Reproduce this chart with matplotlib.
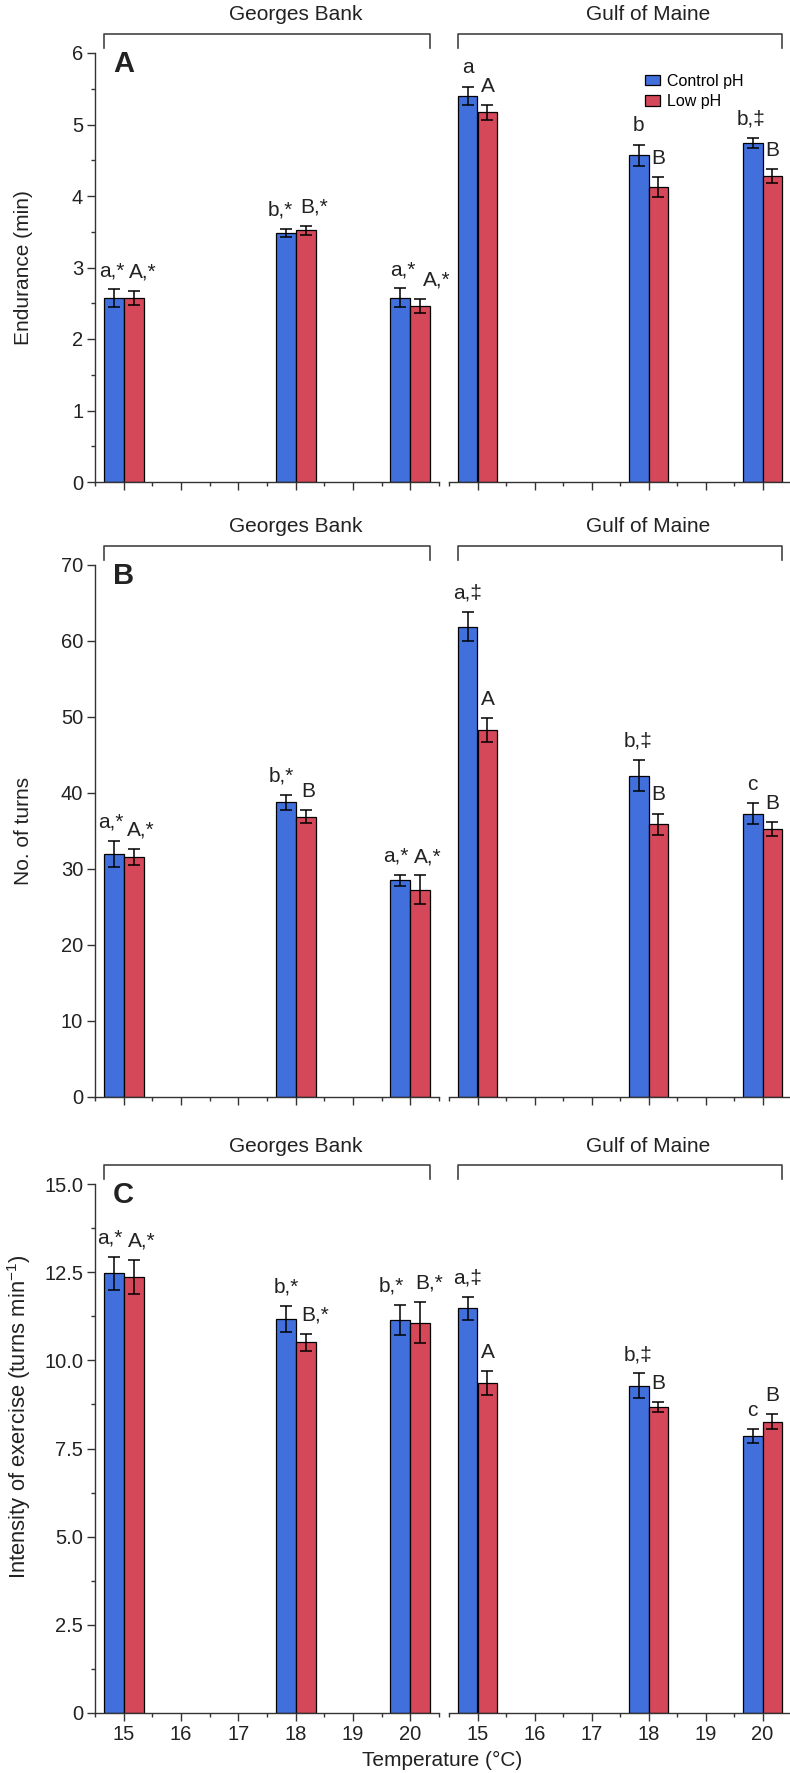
"""
Swimming performance at three temperatures under control / low pH,
Georges Bank vs Gulf of Maine (panels A-C).
"""

import matplotlib
matplotlib.use("Agg")
import matplotlib.pyplot as plt
from matplotlib.patches import Patch
from matplotlib.ticker import MultipleLocator
import numpy as np

plt.rcParams["font.family"] = ["Liberation Sans", "DejaVu Sans"]
plt.rcParams["mathtext.default"] = "regular"

TEMPS = [15, 18, 20]
TICK_TEMPS = [15, 16, 17, 18, 19, 20]

# ---------------------------------------------------------------------------
# Data (mean, s.e.m.)
# ---------------------------------------------------------------------------
# A - endurance (min)
ENDUR_GB_CTRL = [2.57, 3.48, 2.58]
ENDUR_GB_CTRL_SE = [0.125, 0.06, 0.13]
ENDUR_GB_LOW = [2.57, 3.52, 2.46]
ENDUR_GB_LOW_SE = [0.10, 0.06, 0.10]
ENDUR_GM_CTRL = [5.40, 4.57, 4.74]
ENDUR_GM_CTRL_SE = [0.13, 0.15, 0.075]
ENDUR_GM_LOW = [5.17, 4.13, 4.28]
ENDUR_GM_LOW_SE = [0.105, 0.14, 0.10]

# B - number of turns
TURNS_GB_CTRL = [32.0, 38.8, 28.5]
TURNS_GB_CTRL_SE = [1.7, 1.0, 0.7]
TURNS_GB_LOW = [31.6, 36.9, 27.3]
TURNS_GB_LOW_SE = [1.05, 0.8, 1.85]
TURNS_GM_CTRL = [61.9, 42.3, 37.3]
TURNS_GM_CTRL_SE = [1.9, 2.1, 1.35]
TURNS_GM_LOW = [48.3, 35.9, 35.3]
TURNS_GM_LOW_SE = [1.6, 1.4, 0.9]

# C - intensity of exercise (turns min-1)
INTENS_GB_CTRL = [12.47, 11.17, 11.14]
INTENS_GB_CTRL_SE = [0.47, 0.38, 0.43]
INTENS_GB_LOW = [12.37, 10.51, 11.07]
INTENS_GB_LOW_SE = [0.48, 0.24, 0.59]
INTENS_GM_CTRL = [11.48, 9.28, 7.85]
INTENS_GM_CTRL_SE = [0.33, 0.35, 0.20]
INTENS_GM_LOW = [9.36, 8.68, 8.26]
INTENS_GM_LOW_SE = [0.33, 0.14, 0.22]

# significance letters
ENDUR_GB_CTRL_LET = ["a,*", "b,*", "a,*"]
ENDUR_GB_LOW_LET = ["A,*", "B,*", "A,*"]
ENDUR_GM_CTRL_LET = ["a", "b", "b,‡"]
ENDUR_GM_LOW_LET = ["A", "B", "B"]
TURNS_GB_CTRL_LET = ["a,*", "b,*", "a,*"]
TURNS_GB_LOW_LET = ["A,*", "B", "A,*"]
TURNS_GM_CTRL_LET = ["a,‡", "b,‡", "c"]
TURNS_GM_LOW_LET = ["A", "B", "B"]
INTENS_GB_CTRL_LET = ["a,*", "b,*", "b,*"]
INTENS_GB_LOW_LET = ["A,*", "B,*", "B,*"]
INTENS_GM_CTRL_LET = ["a,‡", "b,‡", "c"]
INTENS_GM_LOW_LET = ["A", "B", "B"]

# ---------------------------------------------------------------------------
# Style
# ---------------------------------------------------------------------------
BLUE = "#4170DD"
RED = "#D54859"
TXT = "#222222"
AXC = "#333333"
BAR_W = 0.35
FS = 15

W, H = 790, 1773
fig = plt.figure(figsize=(W / 100, H / 100), dpi=100)


def px_axes(x0, top, x1, bottom):
    return fig.add_axes([x0 / W, 1 - bottom / H, (x1 - x0) / W, (bottom - top) / H])


def style(ax, left, ymax, major, minor, fmt, show_x):
    ax.set_xlim(14.5, 20.5)
    ax.set_ylim(0, ymax)
    for s in ("top", "right"):
        ax.spines[s].set_visible(False)
    for s in ("left", "bottom"):
        ax.spines[s].set_color(AXC)
        ax.spines[s].set_linewidth(1.0)
    ax.set_xticks(TICK_TEMPS)
    ax.xaxis.set_minor_locator(MultipleLocator(0.5))
    ax.tick_params(axis="both", which="major", length=5.5, width=1.0, color=AXC,
                   labelsize=FS - 0.5, labelcolor=TXT, pad=3)
    ax.tick_params(axis="both", which="minor", length=3, width=1.0, color=AXC)
    if not show_x:
        ax.tick_params(axis="x", labelbottom=False)
    if left:
        ax.yaxis.set_major_locator(MultipleLocator(major))
        if minor:
            ax.yaxis.set_minor_locator(MultipleLocator(minor))
        ax.yaxis.set_major_formatter(fmt)
    else:
        ax.spines["left"].set_visible(False)
        ax.tick_params(axis="y", which="both", left=False, labelleft=False)


def bars(ax, ctrl, ctrl_se, low, low_se, ctrl_let, low_let, ctrl_dx, low_dx):
    x = np.array(TEMPS, dtype=float)
    ekw = dict(ecolor="black", elinewidth=1.1, capsize=4.6, capthick=1.1)
    ax.bar(x - BAR_W / 2, ctrl, BAR_W, yerr=ctrl_se, color=BLUE,
           edgecolor="black", linewidth=0.9, error_kw=ekw, zorder=2)
    ax.bar(x + BAR_W / 2, low, BAR_W, yerr=low_se, color=RED,
           edgecolor="black", linewidth=0.9, error_kw=ekw, zorder=2)
    for i in range(len(x)):
        ax.annotate(ctrl_let[i], xy=(x[i] - BAR_W / 2, ctrl[i] + ctrl_se[i]),
                    xytext=(ctrl_dx[i], 9.5), textcoords="offset points",
                    ha="center", va="baseline", fontsize=FS, color=TXT,
                    annotation_clip=False)
        ax.annotate(low_let[i], xy=(x[i] + BAR_W / 2, low[i] + low_se[i]),
                    xytext=(low_dx[i], 9.5), textcoords="offset points",
                    ha="center", va="baseline", fontsize=FS, color=TXT,
                    annotation_clip=False)


def bracket(ax, label):
    h = ax.get_position().height * H
    trans = ax.get_xaxis_transform()
    x0 = TEMPS[0] - BAR_W
    x1 = TEMPS[-1] + BAR_W
    y_line = 1 + 19 / h
    y_end = 1 + 5 / h
    ax.plot([x0, x0, x1, x1], [y_end, y_line, y_line, y_end], color="#444444",
            lw=1.2, transform=trans, clip_on=False)
    ax.text(18.0, 1 + 38 / h, label, transform=trans, ha="center", va="center",
            fontsize=FS, color=TXT)


def letter(ax, s):
    h = ax.get_position().height * H
    w = ax.get_position().width * W
    ax.text(18 / w, 1 + 3 / h, s, transform=ax.transAxes, ha="left", va="top",
            fontsize=21, fontweight="bold", color=TXT)


LX0, LX1 = 95, 439
RX0, RX1 = 449, 791
ROWS = [(53, 482), (565, 1097), (1184, 1713)]
YLAB_Y = [0.5, 0.5, 0.56]

int_fmt = matplotlib.ticker.FuncFormatter(lambda v, p: f"{v:.0f}")
c_fmt = matplotlib.ticker.FuncFormatter(lambda v, p: "0" if v == 0 else f"{v:.1f}")

panels = [
    ("A", "Endurance (min)", 6, 1, 0.5, int_fmt,
     (ENDUR_GB_CTRL, ENDUR_GB_CTRL_SE, ENDUR_GB_LOW, ENDUR_GB_LOW_SE,
      ENDUR_GB_CTRL_LET, ENDUR_GB_LOW_LET, [-1.5, -3.5, 1.5], [6.5, 6, 12]),
     (ENDUR_GM_CTRL, ENDUR_GM_CTRL_SE, ENDUR_GM_LOW, ENDUR_GM_LOW_SE,
      ENDUR_GM_CTRL_LET, ENDUR_GM_LOW_LET, [0, 0, -1], [0, 0, 0])),
    ("B", "No. of turns", 70, 10, None, int_fmt,
     (TURNS_GB_CTRL, TURNS_GB_CTRL_SE, TURNS_GB_LOW, TURNS_GB_LOW_SE,
      TURNS_GB_CTRL_LET, TURNS_GB_LOW_LET, [-2, -3, -3], [5, 1.5, 5.5]),
     (TURNS_GM_CTRL, TURNS_GM_CTRL_SE, TURNS_GM_LOW, TURNS_GM_LOW_SE,
      TURNS_GM_CTRL_LET, TURNS_GM_LOW_LET, [0, 0, 0], [0, 0, 0])),
    ("C", "Intensity of exercise (turns min$^{-1}$)", 15, 2.5, 1.25, c_fmt,
     (INTENS_GB_CTRL, INTENS_GB_CTRL_SE, INTENS_GB_LOW, INTENS_GB_LOW_SE,
      INTENS_GB_CTRL_LET, INTENS_GB_LOW_LET, [-3, 0.5, -6.5], [5.5, 7, 6]),
     (INTENS_GM_CTRL, INTENS_GM_CTRL_SE, INTENS_GM_LOW, INTENS_GM_LOW_SE,
      INTENS_GM_CTRL_LET, INTENS_GM_LOW_LET, [0, 0, 0], [0, 0, 0])),
]

ylabels = []
for row, (tag, ylabel, ymax, major, minor, fmt, gb, gm) in enumerate(panels):
    top, bottom = ROWS[row]
    last = row == len(panels) - 1
    axl = px_axes(LX0, top, LX1, bottom)
    axr = px_axes(RX0, top, RX1, bottom)
    style(axl, True, ymax, major, minor, fmt, last)
    style(axr, False, ymax, major, minor, fmt, last)
    bars(axl, *gb)
    bars(axr, *gm)
    bracket(axl, "Georges Bank")
    bracket(axr, "Gulf of Maine")
    letter(axl, tag)
    ylabels.append(axl.set_ylabel(ylabel, fontsize=FS, color=TXT))
    axl.yaxis.set_label_coords(-0.18, YLAB_Y[row])
    if row == 0:
        handles = [Patch(facecolor=BLUE, edgecolor="black", linewidth=0.9, label="Control pH"),
                   Patch(facecolor=RED, edgecolor="black", linewidth=0.9, label="Low pH")]
        axr.legend(handles=handles, loc="upper left", bbox_to_anchor=(0.573, 0.952),
                   frameon=False, fontsize=11.5, handlelength=0.95, handleheight=0.65,
                   handletextpad=0.4, labelspacing=0.35, borderpad=0, borderaxespad=0)

# the long C label is set in a narrow face in the original: fit it to its length
fig.canvas.draw()
lab = ylabels[2]
length = lab.get_window_extent().height
lab.set_fontsize(FS * 325 / length)

fig.text(442 / W, 1 - 1760 / H, "Temperature (°C)", ha="center", va="center",
         fontsize=FS, color=TXT)

fig.savefig("out.png", dpi=100)
